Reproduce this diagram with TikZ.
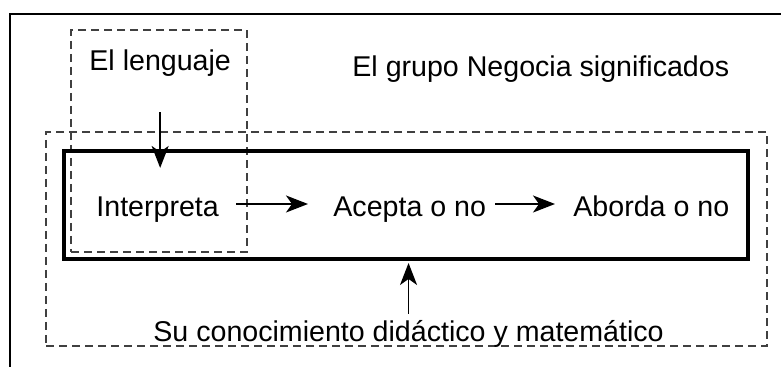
\documentclass[tikz,border=0pt]{standalone}
\usepackage{fontspec}
\setmainfont{Liberation Sans}
\usepackage{tikz}
\usetikzlibrary{arrows.meta}
\usetikzlibrary{calc}
\tikzstyle{caja}=[draw=black!75, dash pattern=on 4pt off 2.5pt, line width=0.55pt, inner sep=0pt]
\tikzstyle{marco}=[draw, line width=2pt, inner sep=0pt]
\tikzstyle{texto}=[inner sep=0pt, anchor=base west, font=\fontsize{14.3}{17}\selectfont]
\tikzstyle{flecha}=[-{Stealth[length=11pt,width=8.5pt,inset=3pt]}, line width=0.8pt]
\newcommand{\filaY}{217}
\newcommand{\subeY}{6.5pt}

\begin{document}
\begin{tikzpicture}[x=0.5pt, y=-0.5pt]
\useasboundingbox (0,0) rectangle (781,367);
% marco exterior, cortado a la derecha y abajo
\draw[line width=0.75pt] (10,400) -- (10,14) -- (800,14);
\node[caja, minimum width=88pt, minimum height=111pt] (bleng) at (159,141) {};
\node[caja, minimum width=360.5pt, minimum height=107pt] (bconoc) at (406.5,239) {};
\node[marco, minimum width=342pt, minimum height=54pt] (marco) at (406,205) {};
\node[texto] (leng) at (89,71) {El lenguaje};
\node[texto] (grupo) at (352,77) {El grupo Negocia significados};
\node[texto] (interp) at (96,\filaY) {Interpreta};
\node[texto] (acepta) at (333,\filaY) {Acepta o no};
\node[texto] (aborda) at (573,\filaY) {Aborda o no};
\node[texto] (conoc) at (153,342) {Su conocimiento didáctico y matemático};
\draw[flecha, shorten <=17.5pt, shorten >=14.5pt] (leng.south) -- (leng.south |- interp.north);
\draw[flecha, shorten <=8.5pt, shorten >=12.5pt] ([yshift=\subeY]interp.base east) -- ([yshift=\subeY]acepta.base west);
\draw[flecha, shorten <=4.5pt, shorten >=9pt] ([yshift=\subeY]acepta.base east) -- ([yshift=\subeY]aborda.base west);
\draw[flecha, shorten <=3.5pt, shorten >=1pt] (conoc.north) -- (conoc.north |- marco.south);
\end{tikzpicture}
\end{document}
